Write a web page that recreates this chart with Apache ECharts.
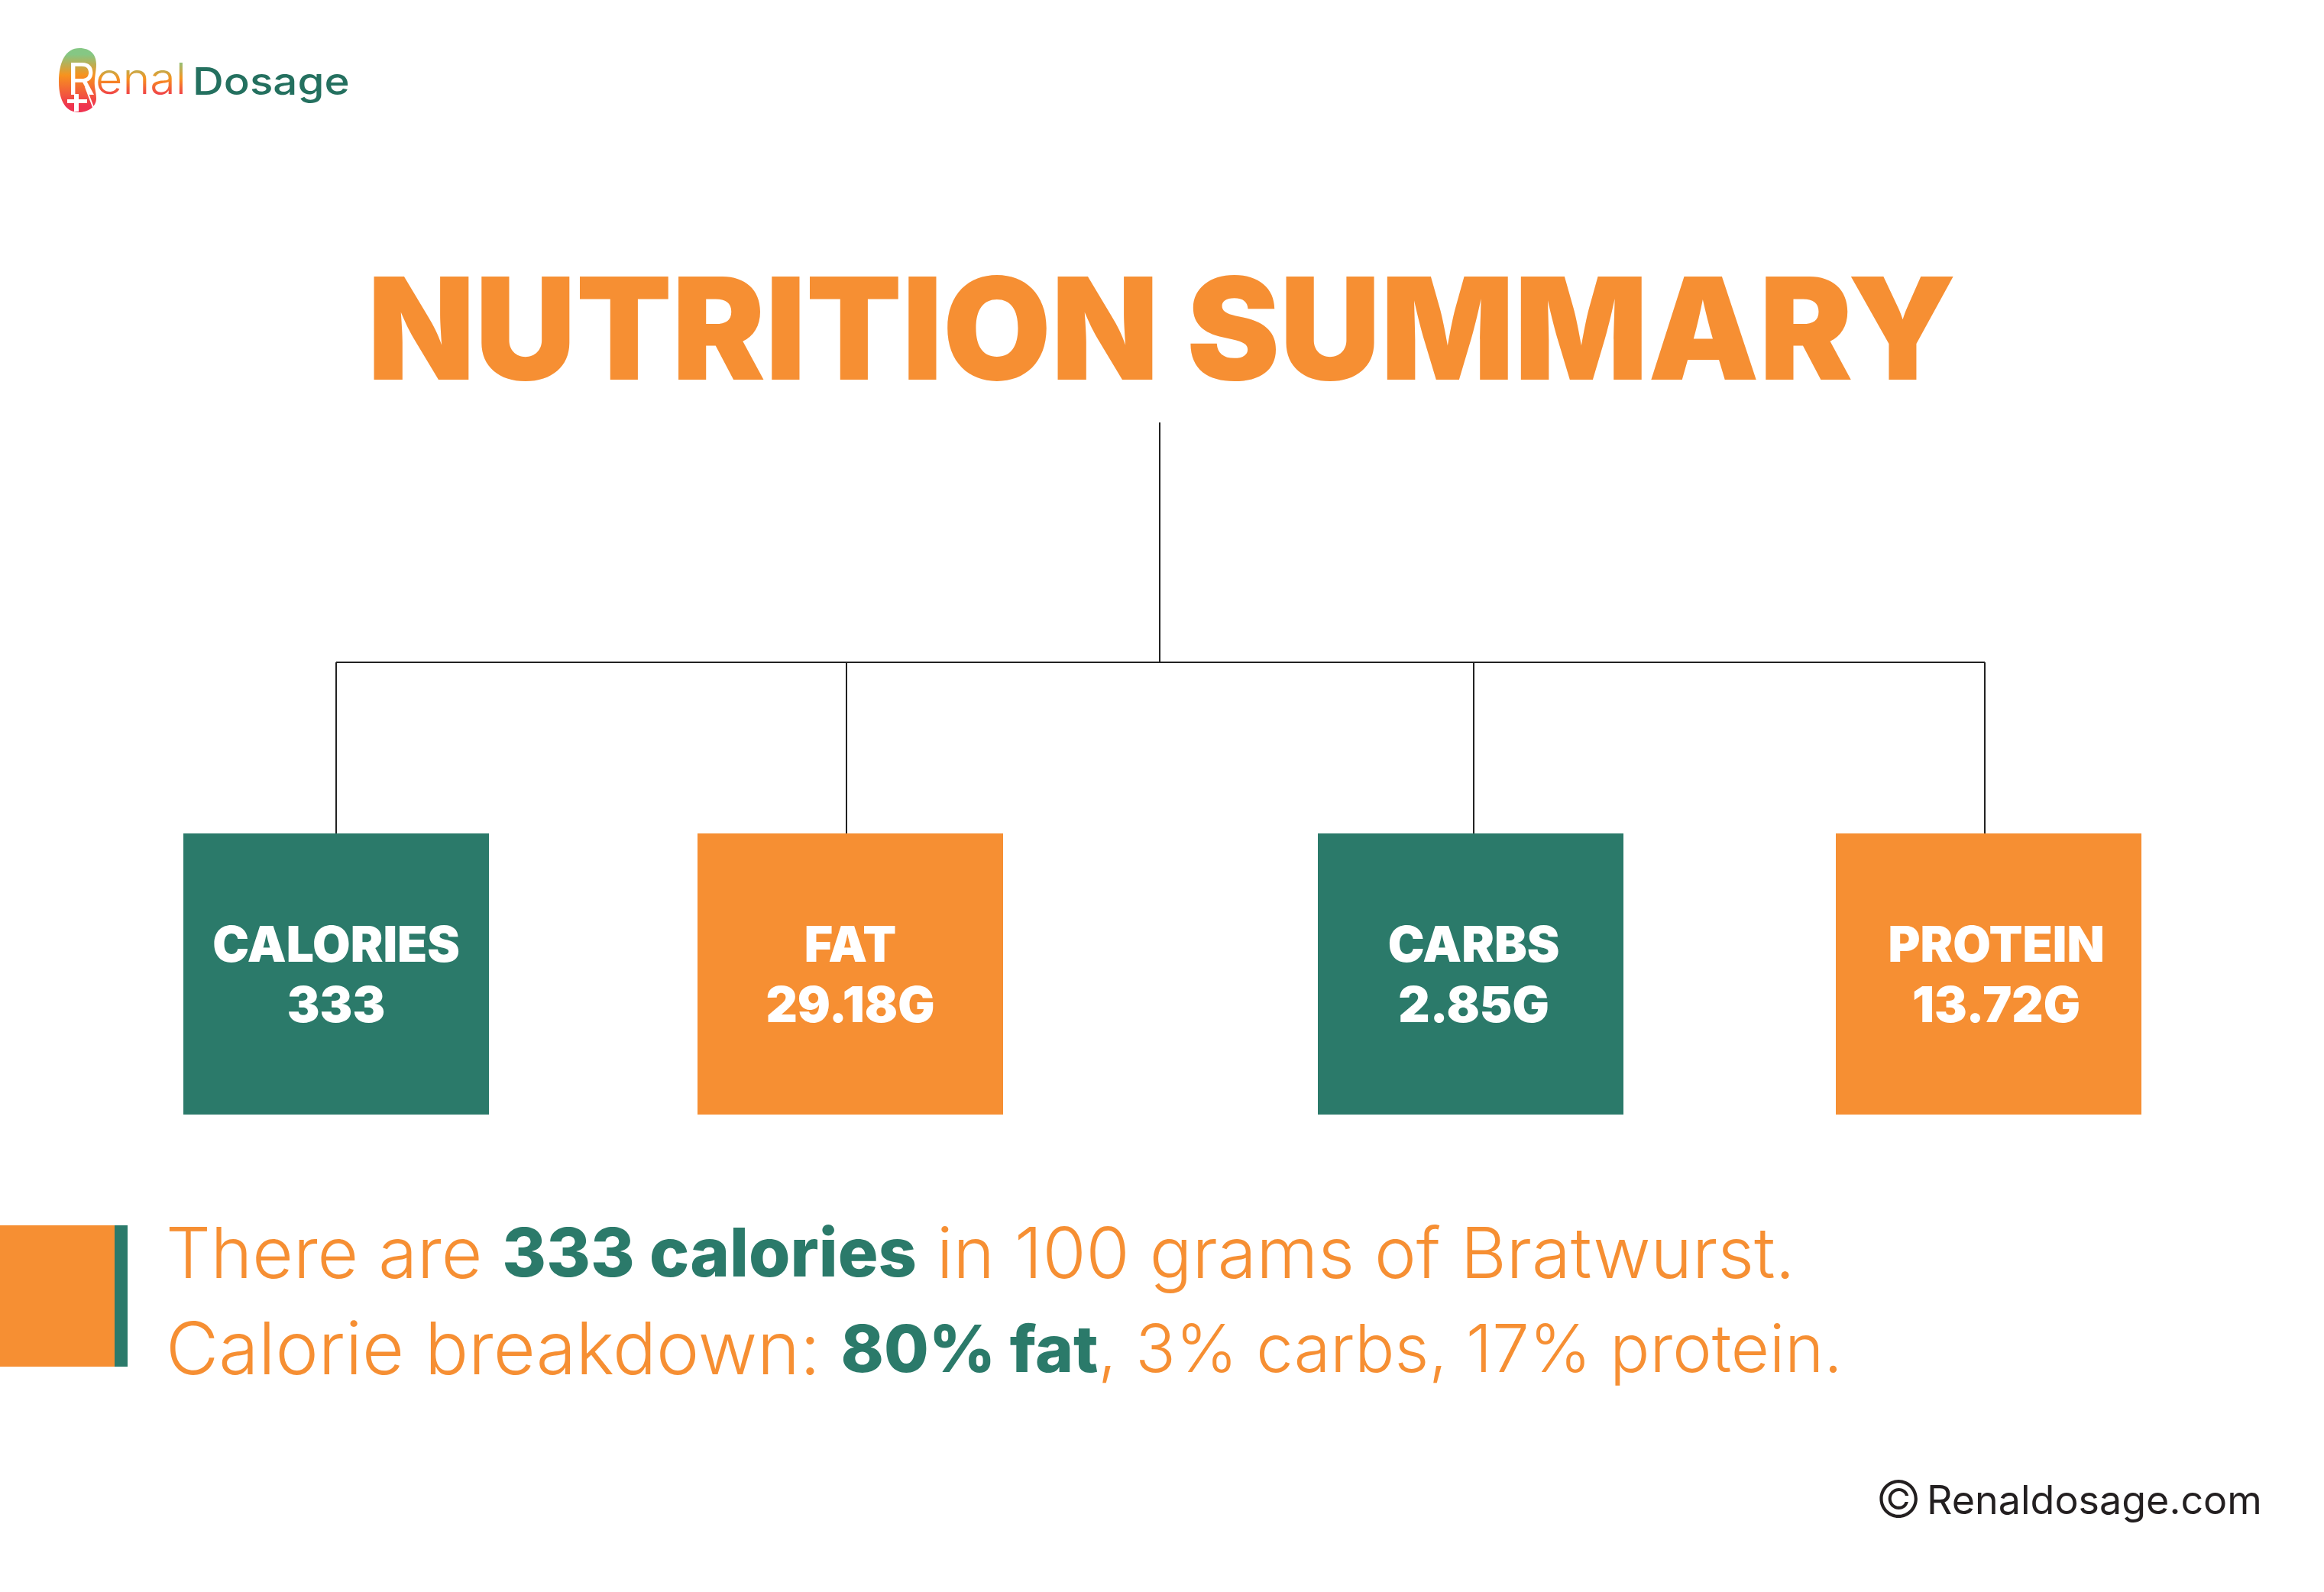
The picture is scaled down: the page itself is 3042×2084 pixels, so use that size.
<!DOCTYPE html>
<html>
<head>
<meta charset="utf-8">
<title>Nutrition Summary</title>
<style>
  html, body { margin: 0; padding: 0; background: #fff; }
  #chart { width: 3042px; height: 2084px; }
</style>
<script src="https://cdn.jsdelivr.net/npm/echarts@6/dist/echarts.min.js"></script>
</head>
<body>
<div id="chart"></div>
<script>
const categories = ["CALORIES", "FAT", "CARBS", "PROTEIN"];
const amounts = ["333", "29.18G", "2.85G", "13.72G"];

const titleText = "NUTRITION SUMMARY";
const summaryOne = ["There are ", "333 calories", " in 100 grams of Bratwurst."];
const summaryTwo = ["Calorie breakdown: ", "80% fat", ", 3% carbs, 17% protein."];
const logoLetter = "R";
const logoRest = "enal";
const logoName = "Dosage";
const siteText = "Renaldosage.com";

// page layout, in picture pixels
const boxCentreX = [440, 1113, 1925, 2603];
const boxCentreY = 1275;
const labelShiftX = [0, 0, 4, 10];
const stemX = [440, 1108, 1929, 2598];
const colors = { orange: "#F68F33", teal: "#2B7A6A", ink: "#231F20" };
const logoStops = ["#85C784", "#F7931E", "#EF3450"];
const font = "Inter";

const connectors = [
  [[1518, 553], [1518, 867]],
  [[440, 867], [2598, 867]],
].concat(stemX.map((x) => [[x, 867], [x, 1091]]));

echarts.graphic.registerShape("kidney", echarts.graphic.extendPath(
  "M27 0 C42 0 49 9 49 21 C49 31 46 40 47 50 C48 57 49 60 49 66 C49 77 38 84 26 84 C10 84 0 70 0 44 C0 18 9 0 27 0 Z",
  {}
));

// text takes no gradient fill, so the logo word is stacked from thin clipped bands
function renderLogoWord() {
  const top = 78;
  const bottom = 126;
  const children = [];
  for (let y = top; y < bottom; y += 2) {
    children.push({
      type: "group",
      clipPath: { type: "rect", shape: { x: 120, y, width: 130, height: 2 } },
      children: [{
        type: "text",
        x: 125,
        y: 106,
        scaleX: 1.09,
        style: {
          text: logoRest,
          fill: echarts.color.lerp((y - top) / (bottom - top), [logoStops[0], logoStops[1], logoStops[2]]),
          font: `300 56px ${font}`,
          verticalAlign: "middle",
        },
      }],
    });
  }
  return { type: "group", children };
}

const chart = echarts.init(document.getElementById("chart"));
chart.setOption({
  animation: false,
  backgroundColor: "#fff",
  grid: { left: 0, right: 0, top: 0, bottom: 0 },
  xAxis: { type: "value", min: 0, max: 3042, show: false },
  yAxis: { type: "value", min: 0, max: 2084, inverse: true, show: false },
  series: connectors.map((points) => ({
    type: "line",
    data: points,
    symbol: "none",
    silent: true,
    lineStyle: { color: "#222", width: 2 },
  })).concat([
    {
      type: "scatter",
      symbol: "rect",
      symbolSize: [400, 368],
      silent: true,
      z: 5,
      data: categories.map((name, i) => ({
        name,
        value: [boxCentreX[i], boxCentreY],
        itemStyle: { color: i % 2 ? colors.orange : colors.teal, opacity: 1 },
        label: { offset: [labelShiftX[i], 4] },
      })),
      label: {
        show: true,
        position: "inside",
        color: "#fff",
        fontFamily: font,
        fontWeight: 900,
        fontSize: 64,
        lineHeight: 79,
        align: "center",
        formatter: (p) => p.name + "\n" + amounts[p.dataIndex],
      },
    },
    {
      type: "custom",
      coordinateSystem: "none",
      silent: true,
      data: [0],
      renderItem: renderLogoWord,
    },
  ]),
  graphic: [
    // title
    { type: "text", x: 481, y: 441, scaleX: 0.984, style: { text: titleText, fill: colors.orange, font: `900 186px ${font}`, verticalAlign: "middle" } },
    // summary marker
    { type: "rect", shape: { x: 0, y: 1604, width: 150, height: 185 }, style: { fill: colors.orange } },
    { type: "rect", shape: { x: 150, y: 1604, width: 17, height: 185 }, style: { fill: colors.teal } },
    // summary lines
    {
      type: "text", x: 217, y: 1645,
      style: {
        text: `{a|${summaryOne[0]}}{b|${summaryOne[1]}}{a|${summaryOne[2]}}`,
        verticalAlign: "middle",
        rich: {
          a: { fill: colors.orange, font: `300 92.5px ${font}` },
          b: { fill: colors.teal, font: `800 88px ${font}` },
        },
      },
    },
    {
      type: "text", x: 217, y: 1770,
      style: {
        text: `{a|${summaryTwo[0]}}{b|${summaryTwo[1]}}{c|${summaryTwo[2]}}`,
        verticalAlign: "middle",
        rich: {
          a: { fill: colors.orange, font: `300 95px ${font}` },
          b: { fill: colors.teal, font: `800 85px ${font}` },
          c: { fill: colors.orange, font: `300 86.7px ${font}` },
        },
      },
    },
    // footer
    { type: "text", x: 2455, y: 1966, style: { text: "\u00A9", fill: colors.ink, font: `300 66px ${font}`, verticalAlign: "middle" } },
    { type: "text", x: 2522, y: 1966, style: { text: siteText, fill: colors.ink, font: `400 52px ${font}`, verticalAlign: "middle" } },
    // logo
    {
      type: "kidney", x: 77, y: 63,
      style: {
        fill: new echarts.graphic.LinearGradient(0, 0, 0, 1, [
          { offset: 0.1, color: logoStops[0] },
          { offset: 0.42, color: logoStops[1] },
          { offset: 0.9, color: logoStops[2] },
        ]),
      },
    },
    { type: "text", x: 88, y: 107, style: { text: logoLetter, fill: "#fff", font: `400 57px ${font}`, verticalAlign: "middle" } },
    { type: "line", shape: { x1: 112, y1: 114, x2: 123, y2: 143 }, style: { stroke: "#fff", lineWidth: 2 } },
    { type: "rect", shape: { x: 88, y: 130, width: 26, height: 5 }, style: { fill: "#fff" } },
    { type: "rect", shape: { x: 97, y: 123, width: 6, height: 23 }, style: { fill: "#fff" } },
    { type: "text", x: 252, y: 109, scaleX: 1.13, style: { text: logoName, fill: "#24705F", font: `500 50px ${font}`, verticalAlign: "middle" } },
  ],
});
</script>
</body>
</html>
